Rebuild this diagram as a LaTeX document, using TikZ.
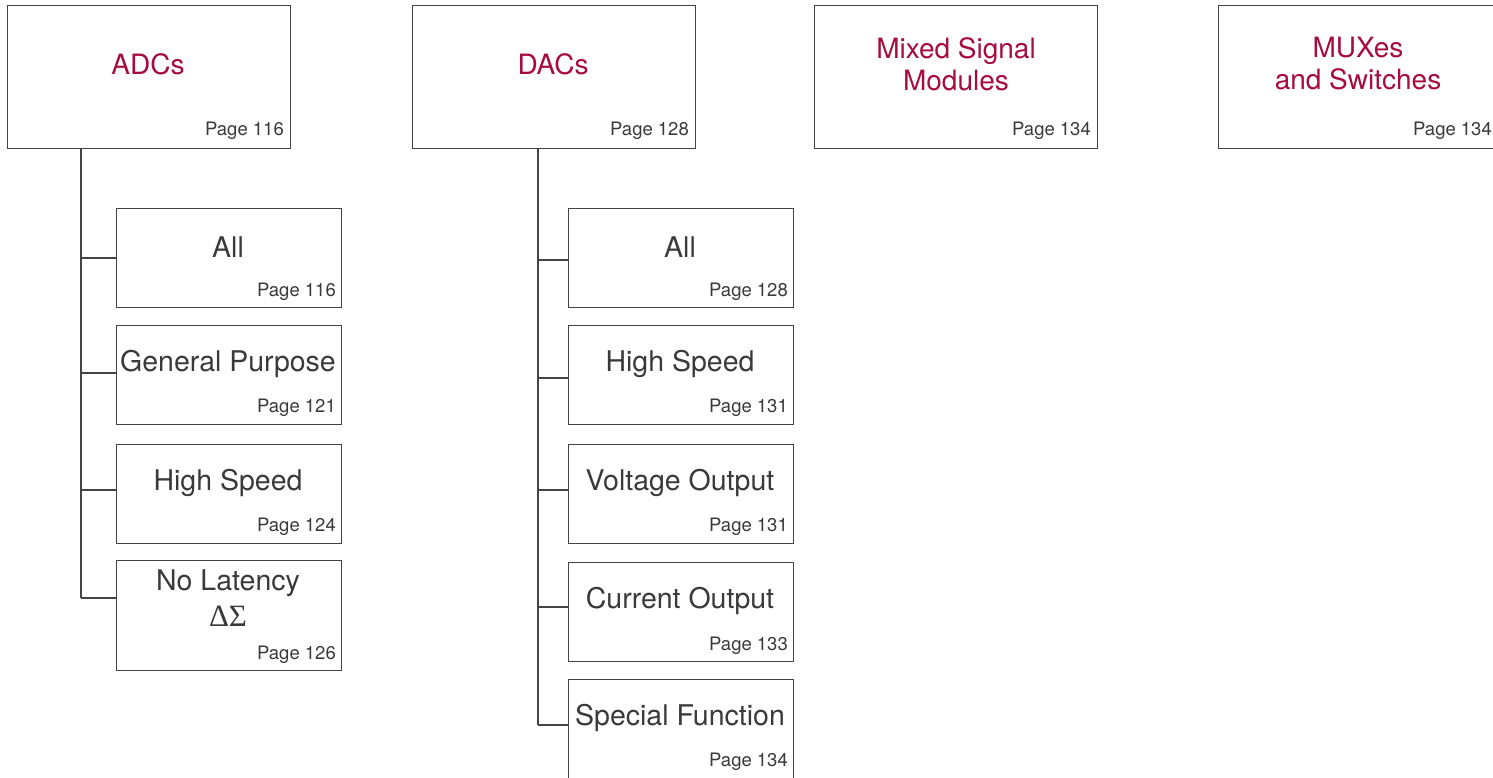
\documentclass[tikz,border=0pt]{standalone}
\usepackage{fontspec}
\setmainfont{TeX Gyre Heros}
\newfontfamily\serifgr{Liberation Serif}
\definecolor{crimson}{HTML}{A60D3E}
\definecolor{txtgray}{HTML}{3A3A3A}
\definecolor{linegray}{HTML}{444444}
\begin{document}
\begin{tikzpicture}[x=1pt,y=-1pt,
  mainbox/.style={draw=linegray,line width=1.2pt,fill=white,minimum width=283pt,minimum height=143pt,inner sep=0pt,anchor=north west},
  subbox/.style={draw=linegray,line width=1.2pt,fill=white,minimum width=225pt,minimum height=99pt,inner sep=0pt,anchor=north west},
  title/.style={text=crimson,font=\fontsize{28}{32}\selectfont,align=center,inner sep=0pt},
  label/.style={text=txtgray,font=\fontsize{28.5}{32}\selectfont,align=center,inner sep=0pt},
  page/.style={text=txtgray,font=\fontsize{18.5}{20}\selectfont,inner sep=0pt,anchor=east},
  conn/.style={draw=linegray,line width=1.2pt}]
\useasboundingbox (0,0) rectangle (1493,777);
\fill[white] (0,0) rectangle (1493,777);

% top boxes
\node[mainbox] (adcs) at (7,5) {};
\node[title] (adcsT) at (148,64) {ADCs};
\node[page] (adcsP) at (284,131) {Page 116};

\node[mainbox] (dacs) at (412,5) {};
\node[title] (dacsT) at (553,64) {DACs};
\node[page] (dacsP) at (689,131) {Page 128};

\node[mainbox] (mixed) at (814,5) {};
\node[title] (mixedT) at (956,64) {Mixed Signal\\Modules};
\node[page] (mixedP) at (1091,131) {Page 134};

\node[mainbox] (mux) at (1218,5) {};
\node[title] (muxT) at (1358,64) {MUXes\\and Switches};
\node[page] (muxP) at (1492,131) {Page 134};

% ADC sub boxes
\node[subbox] (aAll) at (116,208) {};
\node[label] at (228,247) {All};
\node[page] at (336,292) {Page 116};

\node[subbox] (aGen) at (116,325) {};
\node[label] at (228,364) {General Purpose};
\node[page] at (336,408) {Page 121};

\node[subbox] (aHS) at (116,444) {};
\node[label] at (228,483) {High Speed};
\node[page] at (336,527) {Page 124};

\node[subbox,minimum height=110pt] (aNL) at (116,560) {};
\node[label] at (228,583) {No Latency};
\node[label,font=\serifgr\fontsize{31}{34}\selectfont] at (228,616) {ΔΣ};
\node[page] at (336,655) {Page 126};

% DAC sub boxes
\node[subbox] (dAll) at (568,208) {};
\node[label] at (680,247) {All};
\node[page] at (788,292) {Page 128};

\node[subbox] (dHS) at (568,325) {};
\node[label] at (680,364) {High Speed};
\node[page] at (788,408) {Page 131};

\node[subbox] (dVO) at (568,444) {};
\node[label] at (680,483) {Voltage Output};
\node[page] at (788,527) {Page 131};

\node[subbox] (dCO) at (568,562) {};
\node[label] at (680,601) {Current Output};
\node[page] at (788,646) {Page 133};

\node[subbox,minimum height=110pt] (dSF) at (568,679) {};
\node[label] at (680,718) {Special Function};
\node[page] at (788,762) {Page 134};

% ADC connectors
\coordinate (aT) at (81,148);
\coordinate (a1) at (81,258);
\coordinate (a2) at (81,373);
\coordinate (a3) at (81,490);
\coordinate (a4) at (81,598);
\draw[conn] (aT) -- (a4);
\draw[conn] (a1) -- (a1 -| aAll.west);
\draw[conn] (a2) -- (a2 -| aGen.west);
\draw[conn] (a3) -- (a3 -| aHS.west);
\draw[conn] (a4) -- (a4 -| aNL.west);

% DAC connectors
\coordinate (dT) at (538,148);
\coordinate (d1) at (538,260);
\coordinate (d2) at (538,378);
\coordinate (d3) at (538,490);
\coordinate (d4) at (538,607);
\coordinate (d5) at (538,725);
\draw[conn] (dT) -- (d5);
\draw[conn] (d1) -- (d1 -| dAll.west);
\draw[conn] (d2) -- (d2 -| dHS.west);
\draw[conn] (d3) -- (d3 -| dVO.west);
\draw[conn] (d4) -- (d4 -| dCO.west);
\draw[conn] (d5) -- (d5 -| dSF.west);
\end{tikzpicture}
\end{document}
